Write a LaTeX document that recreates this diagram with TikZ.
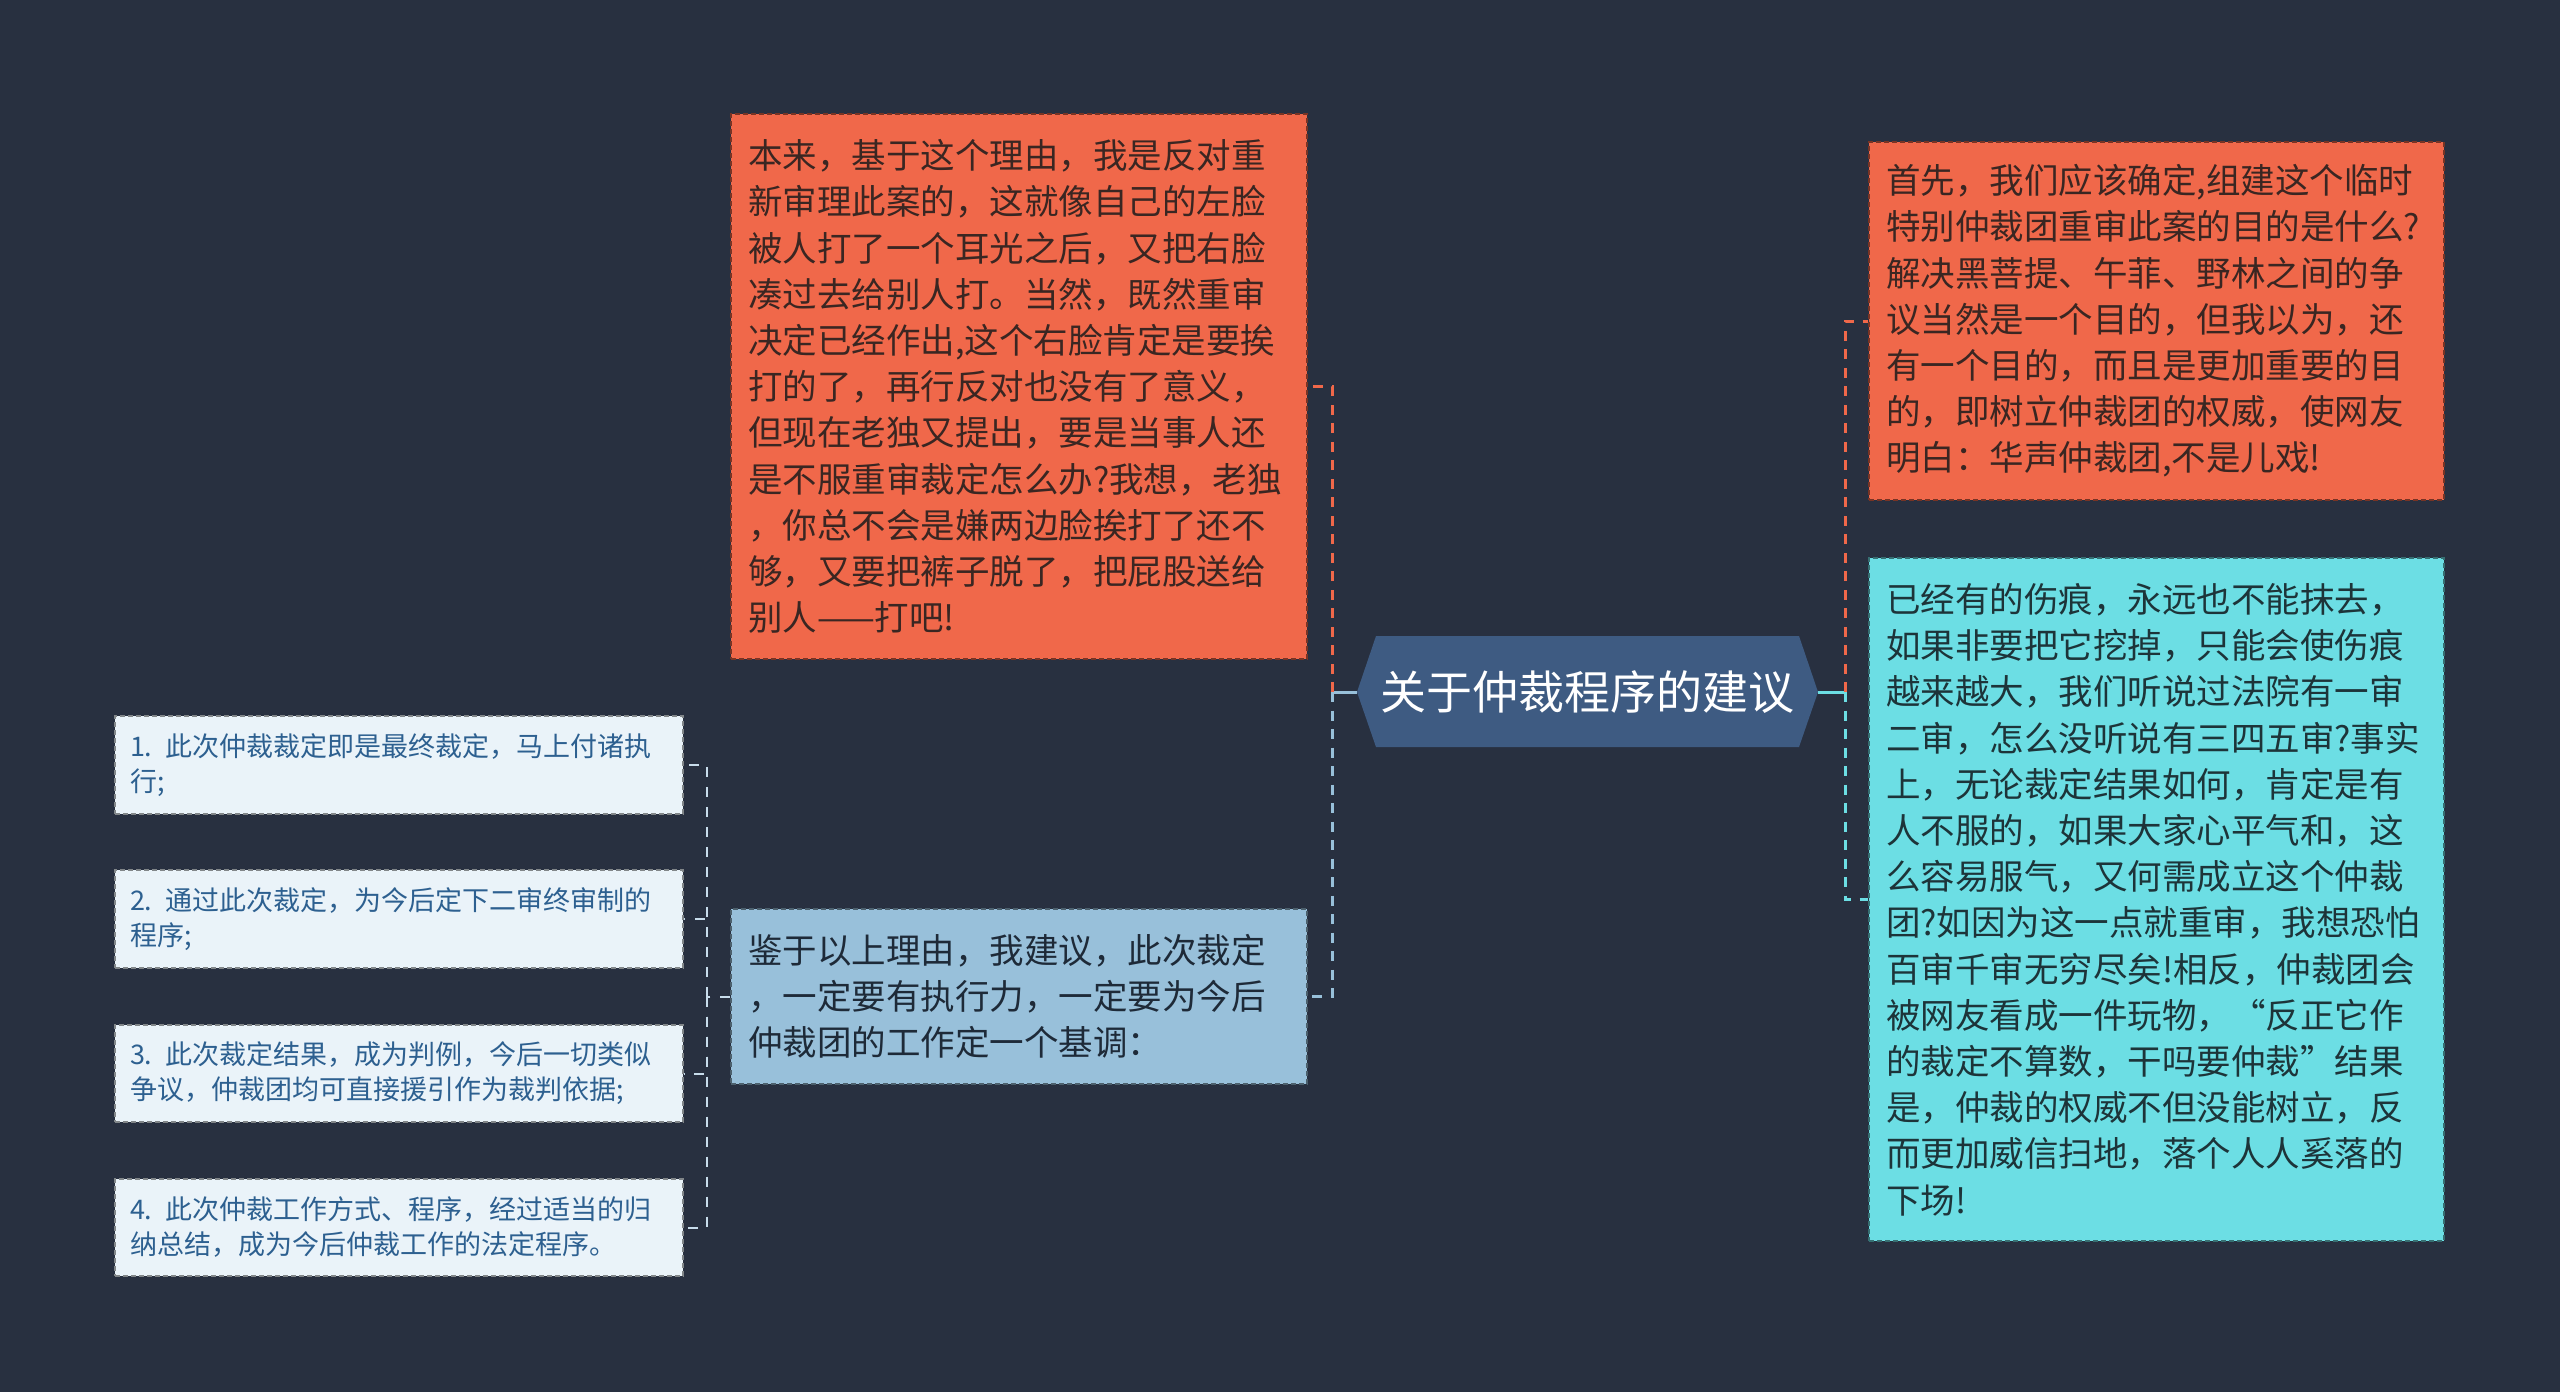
\documentclass[tikz,border=0pt]{standalone}
\usepackage{fontspec}
\setmainfont{Noto Sans CJK SC}
\usetikzlibrary{calc}
\definecolor{bgc}{HTML}{283040}
\definecolor{orf}{HTML}{F0684A}
\definecolor{cyf}{HTML}{6CDEE4}
\definecolor{blf}{HTML}{98C0DA}
\definecolor{ltf}{HTML}{EAF3F9}
\definecolor{hexc}{HTML}{3E5B82}
\definecolor{ort}{HTML}{3A2622}
\definecolor{cyt}{HTML}{1D3439}
\definecolor{blt}{HTML}{1E2A38}
\definecolor{ltt}{HTML}{2D6090}
\definecolor{smc}{HTML}{C8DCEB}
\tikzset{
  card/.style={rectangle, inner xsep=17pt, inner ysep=0pt, align=left,
    line width=1.5pt, dash pattern=on 5pt off 3pt,
    font=\fontsize{34.5}{46.2}\selectfont},
  smallcard/.style={rectangle, inner xsep=15pt, inner ysep=0pt, align=left,
    line width=1.5pt, dash pattern=on 5pt off 3pt, text=ltt,
    fill=ltf, draw=ltf!55!black, minimum width=568pt, text width=538pt,
    font=\fontsize{27}{35}\selectfont},
  bigline/.style={line width=3pt, dash pattern=on 10pt off 8.5pt},
  stemline/.style={line width=3pt},
  smline/.style={line width=2pt, dash pattern=on 10pt off 10pt, draw=smc}
}
\begin{document}
\begin{tikzpicture}[x=1pt,y=-1pt]
\useasboundingbox (0,0) rectangle (2560,1392);
\fill[bgc] (0,0) rectangle (2560,1392);

% central hexagon
\coordinate (hexL) at (1357,692);
\coordinate (hexR) at (1818,692);
\fill[hexc] (hexL) -- (1376,636) -- (1799,636) -- (hexR) -- (1799,747) -- (1376,747) -- cycle;
\node[text=white, font=\fontsize{46}{55}\selectfont, inner sep=0pt] (root) at (1587.5,692) {关于仲裁程序的建议};

% boxes
\node[card, fill=orf, draw=orf!50!black, text=ort, minimum width=576pt, text width=542pt, minimum height=545pt] (tl) at (1019,386.5) {本来，基于这个理由，我是反对重\\新审理此案的，这就像自己的左脸\\被人打了一个耳光之后，又把右脸\\凑过去给别人打。当然，既然重审\\决定已经作出,这个右脸肯定是要挨\\打的了，再行反对也没有了意义，\\但现在老独又提出，要是当事人还\\是不服重审裁定怎么办?我想，老独\\，你总不会是嫌两边脸挨打了还不\\够，又要把裤子脱了，把屁股送给\\别人——打吧!};

\node[card, fill=blf, draw=blf!50!black, text=blt, minimum width=576pt, text width=542pt, minimum height=175pt] (bl) at (1019,996.5) {鉴于以上理由，我建议，此次裁定\\，一定要有执行力，一定要为今后\\仲裁团的工作定一个基调：};

\node[card, fill=orf, draw=orf!50!black, text=ort, minimum width=575pt, text width=541pt, minimum height=358pt] (ro) at (2156.5,321) {首先，我们应该确定,组建这个临时\\特别仲裁团重审此案的目的是什么?\\解决黑菩提、午菲、野林之间的争\\议当然是一个目的，但我以为，还\\有一个目的，而且是更加重要的目\\的，即树立仲裁团的权威，使网友\\明白：华声仲裁团,不是儿戏!};

\node[card, fill=cyf, draw=cyf!50!black, text=cyt, minimum width=575pt, text width=541pt, minimum height=683pt] (rc) at (2156.5,899.5) {已经有的伤痕，永远也不能抹去，\\如果非要把它挖掉，只能会使伤痕\\越来越大，我们听说过法院有一审\\二审，怎么没听说有三四五审?事实\\上，无论裁定结果如何，肯定是有\\人不服的，如果大家心平气和，这\\么容易服气，又何需成立这个仲裁\\团?如因为这一点就重审，我想恐怕\\百审千审无穷尽矣!相反，仲裁团会\\被网友看成一件玩物，“反正它作\\的裁定不算数，干吗要仲裁”结果\\是，仲裁的权威不但没能树立，反\\而更加威信扫地，落个人人奚落的\\下场!};

\node[smallcard, minimum height=98pt] (s1) at (399,765) {1. 此次仲裁裁定即是最终裁定，马上付诸执\\行;};
\node[smallcard, minimum height=98pt] (s2) at (399,919) {2. 通过此次裁定，为今后定下二审终审制的\\程序;};
\node[smallcard, minimum height=97pt] (s3) at (399,1073.5) {3. 此次裁定结果，成为判例，今后一切类似\\争议，仲裁团均可直接援引作为裁判依据;};
\node[smallcard, minimum height=97pt] (s4) at (399,1227.5) {4. 此次仲裁工作方式、程序，经过适当的归\\纳总结，成为今后仲裁工作的法定程序。};

% connectors
\coordinate (trunkL) at (1332,692);
\coordinate (trunkR) at (1845,692);
\coordinate (trunkS) at (707,996.5);
\draw[stemline, blf] (hexL) -- (trunkL);
\draw[bigline, orf] (trunkL) |- (tl.east);
\draw[bigline, blf] (trunkL) |- (bl.east);
\draw[stemline, cyf] (hexR) -- (trunkR);
\draw[bigline, orf] (trunkR) |- (ro.west);
\draw[bigline, cyf] (trunkR) |- (rc.west);
\draw[smline] (bl.west) -- (trunkS);
\draw[smline] (trunkS) |- (s1.east);
\draw[smline] (trunkS) |- (s2.east);
\draw[smline] (trunkS) |- (s3.east);
\draw[smline] (trunkS) |- (s4.east);
\end{tikzpicture}
\end{document}
